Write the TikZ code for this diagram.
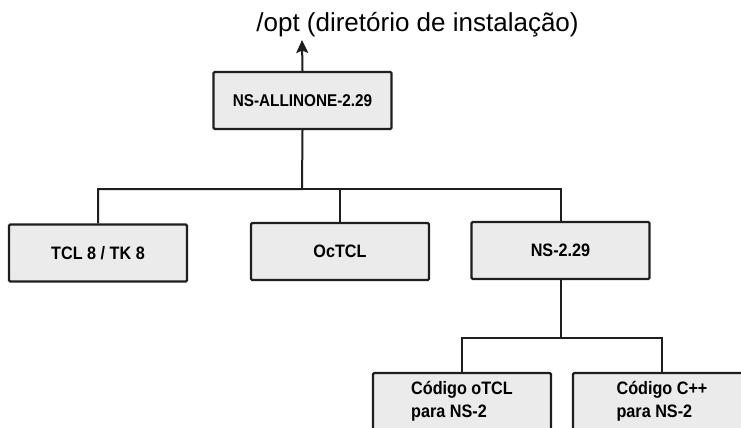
\documentclass[tikz,border=0pt]{standalone}
\usepackage{fontspec}
\setmainfont{Liberation Sans}
\newfontfamily\boxfont{Liberation Sans}[FakeStretch=0.9]
\usepackage{tikz}
\usetikzlibrary{calc,arrows.meta}
\definecolor{boxgray}{HTML}{EBEBEB}
\definecolor{inkline}{HTML}{1E1E1E}

\begin{document}
\begin{tikzpicture}[x=1pt,y=-1pt,
  dirbox/.style={draw=inkline,fill=boxgray,line width=2.2pt,rounded corners=1.2pt,
    minimum width=178pt,minimum height=57pt,inner sep=0pt,align=left,
    font=\boxfont\bfseries\fontsize{18}{23}\selectfont},
  link/.style={draw=inkline,line width=2pt}]
\useasboundingbox (0,0) rectangle (741,428);
\clip (0,0) rectangle (741,428);
\node[font=\fontsize{26}{30}\selectfont,inner sep=0pt] (title) at (417.5,25) {/opt (diretório de instalação)};
\node[dirbox,font=\boxfont\bfseries\fontsize{17}{20}\selectfont] (root) at (302.5,100.5) {NS-ALLINONE-2.29};
\node[dirbox] (tcl) at (98,253) {TCL 8 / TK 8};
\node[dirbox] (octcl) at (340,251.5) {OcTCL};
\node[dirbox] (ns) at (560.5,250.5) {NS-2.29};
\node[dirbox] (otclsrc) at (462,401.5) {Código oTCL\\para NS-2};
\node[dirbox] (cppsrc) at (662,401.5) {Código C++\\para NS-2};
\coordinate (opt) at (302,40);
\coordinate (split) at (302,189);
\coordinate (nssplit) at (560.5,338);
% arrow up to /opt
\draw[link,-{Stealth[length=13pt,width=12pt,inset=2.5pt]}] (root.north) -- (opt);
\draw[link] (root.south) -- (split) -| (tcl.north);
\foreach \kid in {octcl,ns}{\draw[link] (split) -| (\kid.north);}
\draw[link] (ns.south) -- (nssplit);
\foreach \kid in {otclsrc,cppsrc}{\draw[link] (nssplit) -| (\kid.north);}
\end{tikzpicture}
\end{document}
